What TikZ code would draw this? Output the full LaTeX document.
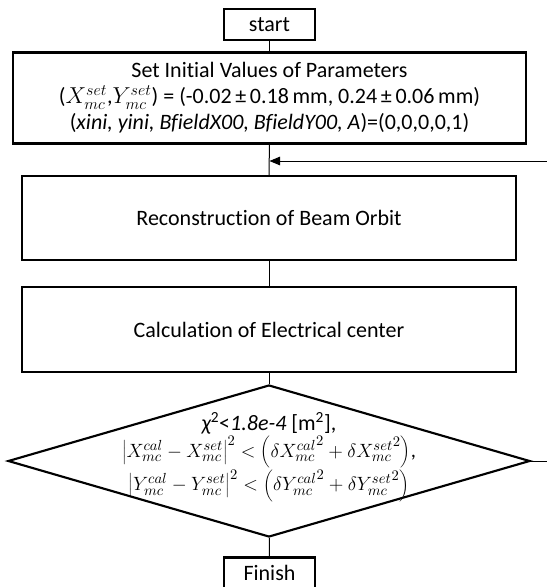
\documentclass[tikz,border=0pt]{standalone}
\usepackage{fontspec}
\setmainfont{Carlito}[Ligatures=NoCommon]
\usetikzlibrary{shapes.geometric,arrows.meta}
\begin{document}
\begin{tikzpicture}[x=0.75pt, y=-0.75pt, line width=0.75pt,
  font=\fontsize{16.5}{19.5}\selectfont,
  bx/.style={draw, line width=1.6pt, inner sep=0pt, align=center},
  term/.style={bx, minimum width=68.25pt, minimum height=23.25pt},
  proc/.style={bx, minimum width=370.5pt, minimum height=63pt},
  dec/.style={draw, line width=1.6pt, shape=diamond, inner sep=0pt,
    minimum width=391.5pt, minimum height=114pt},
  txt/.style={inner sep=0pt, align=center},
  link/.style={line width=0.75pt}]
  \useasboundingbox (0,0) rectangle (547,587);
  % 좌표는 그림의 픽셀 단위 (x 오른쪽, y 아래)
  \node[term] (start) at (269.5,24.5) {start};
  \node[bx, minimum width=384.75pt, minimum height=68.25pt] (init) at (269.5,98)
    {Set Initial Values of Parameters\\
     ($X_{mc}^{set}$,$Y_{mc}^{set}$) = (-0.02\,±\,0.18\,mm, 0.24\,±\,0.06\,mm)\\
     (\textit{xini, yini, BfieldX00, BfieldY00, A})=(0,0,0,0,1)};
  \node[proc] (recon) at (269,218) {Reconstruction of Beam Orbit};
  \node[proc, minimum height=63.75pt] (calc) at (269,329.5) {Calculation of Electrical center};
  \node[dec] (check) at (269,461) {};
  \node[txt, font=\fontsize{15.5}{20}\selectfont] (checktext) at (269,457)
    {{\fontsize{16.5}{20}\selectfont\textit{χ}\kern-0.5pt\textsuperscript{2}<\textit{1.8e-4} [m\textsuperscript{2}],}\\
     $\left|X_{mc}^{cal}-X_{mc}^{set}\right|^2<\left(\delta {X_{mc}^{cal}}^2+\delta {X_{mc}^{set}}^2\right)$,\\
     $\left|Y_{mc}^{cal}-Y_{mc}^{set}\right|^2<\left(\delta {Y_{mc}^{cal}}^2+\delta {Y_{mc}^{set}}^2\right)$};
  \node[term] (finish) at (269.5,573) {Finish};
  % 되돌아가는 선은 그림 오른쪽 밖으로 나간다
  \coordinate (ret) at (269.5,161);
  \coordinate (edgetop) at (547,161);
  \coordinate (edgebot) at (547,461);
  \draw[link] (start) -- (init);
  \draw[link] (init) -- (recon);
  \draw[link] (recon) -- (calc);
  \draw[link] (calc) -- (check);
  \draw[link] (check) -- (finish);
  \draw[link] (check.east) -- (edgebot);
  \draw[link, -{Triangle[length=8pt, width=6.5pt]}] (edgetop) -- (ret);
\end{tikzpicture}
\end{document}
